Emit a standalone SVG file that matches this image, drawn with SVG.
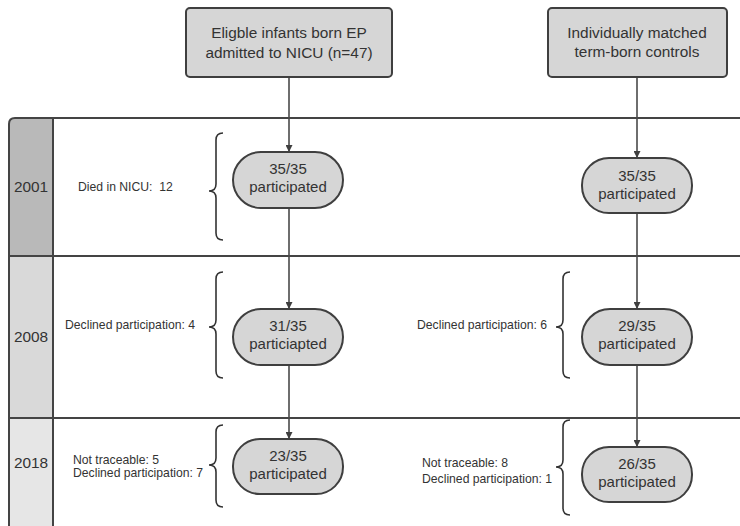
<svg xmlns="http://www.w3.org/2000/svg" width="740" height="526" viewBox="0 0 740 526">
<defs>
<style>
.box{fill:#d6d6d6;stroke:#3f3f3f;stroke-width:2}
.t{font-family:"Liberation Sans",Arial,sans-serif;fill:#333;text-anchor:middle}
.big{font-size:15.4px}
.nd{font-size:15px}
.sm{font-size:12.2px;text-anchor:start}
.yr{font-size:15.4px}
.ln{stroke:#4a4a4a;stroke-width:1.6;fill:none}
.br{stroke:#333;stroke-width:1.6;fill:none}
.grid{stroke:#444;stroke-width:2;fill:none}
</style>
<marker id="ah" viewBox="0 0 10 10" refX="10" refY="5" markerWidth="7" markerHeight="7" markerUnits="userSpaceOnUse" orient="auto">
<path d="M0,0 L10,5 L0,10 z" fill="#3f3f3f"/>
</marker>
</defs>
<rect width="740" height="526" fill="#fff"/>
<g id="table">
<path d="M9,530 V123 Q9,118 14,118 H53 V256 H9 Z" fill="#b9b9b9"/>
<rect x="9" y="256" width="44" height="162" fill="#d9d9d9"/>
<rect x="9" y="418" width="44" height="112" fill="#e6e6e6"/>
<path class="grid" d="M9,530 V124 Q9,118 15,118 H745"/>
<line class="grid" x1="53" y1="118" x2="53" y2="530"/>
<line class="grid" x1="9" y1="256" x2="745" y2="256"/>
<line class="grid" x1="9" y1="418" x2="745" y2="418"/>
<text class="t yr" x="31" y="192">2001</text>
<text class="t yr" x="31" y="342">2008</text>
<text class="t yr" x="31" y="468">2018</text>
</g>
<g id="connectors">
<line class="ln" x1="289" y1="77" x2="289" y2="152" marker-end="url(#ah)"/>
<line class="ln" x1="289" y1="208" x2="289" y2="309" marker-end="url(#ah)"/>
<line class="ln" x1="289" y1="365" x2="289" y2="439" marker-end="url(#ah)"/>
<line class="ln" x1="637" y1="77" x2="637" y2="158" marker-end="url(#ah)"/>
<line class="ln" x1="637" y1="213" x2="637" y2="309" marker-end="url(#ah)"/>
<line class="ln" x1="637" y1="365" x2="637" y2="447" marker-end="url(#ah)"/>
</g>
<g id="src-ep">
<rect class="box" x="186" y="8" width="206" height="69" rx="4"/>
<text class="t big" x="289" y="38">Eligble infants born EP</text>
<text class="t big" x="289" y="58">admitted to NICU (n=47)</text>
</g>
<g id="src-term">
<rect class="box" x="548" y="8" width="179" height="69" rx="4"/>
<text class="t big" x="637" y="38">Individually matched</text>
<text class="t big" x="637" y="57">term-born controls</text>
</g>
<g id="ep2001">
<rect class="box" x="233" y="152" width="110" height="56" rx="28"/>
<text class="t nd" x="288" y="174">35/35</text>
<text class="t nd" x="288" y="192">participated</text>
</g>
<g id="tc2001">
<rect class="box" x="582" y="158" width="110" height="55" rx="27"/>
<text class="t nd" x="637" y="181">35/35</text>
<text class="t nd" x="637" y="199">participated</text>
</g>
<g id="ep2008">
<rect class="box" x="233" y="309" width="110" height="56" rx="28"/>
<text class="t nd" x="288" y="331">31/35</text>
<text class="t nd" x="288" y="349">particiapted</text>
</g>
<g id="tc2008">
<rect class="box" x="582" y="309" width="110" height="56" rx="28"/>
<text class="t nd" x="637" y="331">29/35</text>
<text class="t nd" x="637" y="349">participated</text>
</g>
<g id="ep2018">
<rect class="box" x="233" y="439" width="110" height="55" rx="27"/>
<text class="t nd" x="288" y="461">23/35</text>
<text class="t nd" x="288" y="479">participated</text>
</g>
<g id="tc2018">
<rect class="box" x="582" y="447" width="110" height="55" rx="27"/>
<text class="t nd" x="637" y="469">26/35</text>
<text class="t nd" x="637" y="487">participated</text>
</g>
<g id="notes">
<path class="br" d="M223,133 Q216,133 216,140 V184 Q216,191 209,191 Q216,191 216,198 V233 Q216,240 223,240"/>
<text class="t sm" x="78" y="191">Died in NICU:&#160; 12</text>
<path class="br" d="M223,272 Q216,272 216,279 V320 Q216,327 209,327 Q216,327 216,334 V371 Q216,378 223,378"/>
<text class="t sm" x="65" y="329">Declined participation: 4</text>
<path class="br" d="M223,425 Q216,425 216,432 V458 Q216,465 209,465 Q216,465 216,472 V500 Q216,507 223,507"/>
<text class="t sm" x="73" y="464">Not traceable: 5</text>
<text class="t sm" x="73" y="477">Declined participation: 7</text>
<path class="br" d="M570,272 Q563,272 563,279 V320 Q563,327 556,327 Q563,327 563,334 V371 Q563,378 570,378"/>
<text class="t sm" x="417" y="329">Declined participation: 6</text>
<path class="br" d="M570,420 Q563,420 563,427 V460 Q563,467 556,467 Q563,467 563,474 V508 Q563,515 570,515"/>
<text class="t sm" x="422" y="467">Not traceable: 8</text>
<text class="t sm" x="422" y="483">Declined participation: 1</text>
</g>
</svg>
